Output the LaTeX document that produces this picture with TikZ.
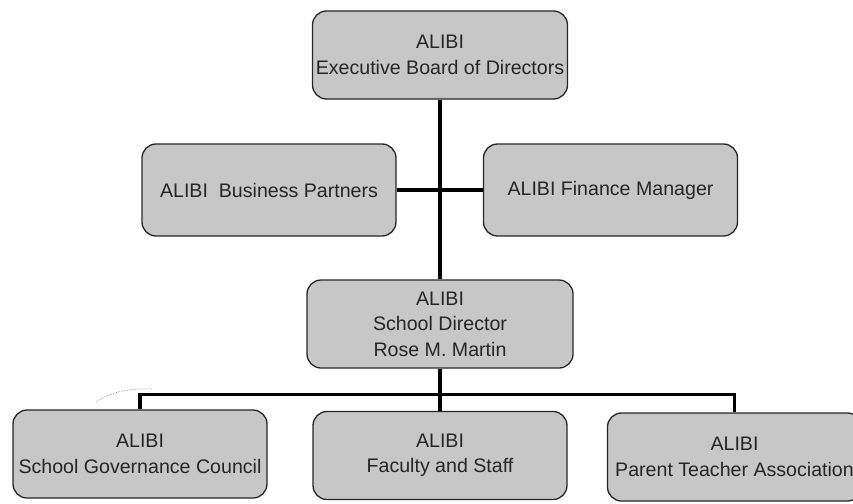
\documentclass[tikz,border=0pt]{standalone}
\usepackage{fontspec}
\setmainfont{Liberation Sans}
\usetikzlibrary{positioning}

\begin{document}
\begin{tikzpicture}[x=1pt,y=1pt]
  \tikzstyle{orgBox} = [draw=black!85, line width=1.3pt, fill=black!22, rectangle, rounded corners=14pt, minimum width=254pt, minimum height=88pt, align=center, text=black!85, font={\fontsize{19.6}{25.5}\selectfont}];
  \tikzstyle{orgLink} = [black, line width=3.4pt];

  \useasboundingbox (0,0) rectangle (853,-503);

  \node[orgBox]                  (Board)    at (440,-55) {ALIBI\\Executive Board of Directors};
  \node[orgBox, minimum height=92pt] (Partners) [below of=Board, node distance=135pt, xshift=-171pt] {ALIBI\ \ Business Partners};
  \node[orgBox, minimum height=92pt] (Finance)  [below of=Board, node distance=135pt, xshift=170.5pt] {ALIBI Finance Manager};
  \node[orgBox, minimum width=266pt] (Director) [below of=Board, node distance=269pt] {ALIBI\\School Director\\Rose M. Martin};

  \node[orgBox] (Council) [below of=Director, node distance=130pt, xshift=-300pt] {ALIBI\\School Governance Council};
  \node[orgBox] (Faculty) [below of=Director, node distance=131.5pt] {ALIBI\\Faculty and Staff};
  \node[orgBox] (PTA)     [below of=Director, node distance=133pt, xshift=294.5pt] {ALIBI\\Parent Teacher Association};

  \draw[orgLink] (Board) -- (Director);
  \draw[orgLink] (Partners) -- (Finance);
  \draw[orgLink] (Director.south) -- ++(0,-26) coordinate (Bus);
  \draw[orgLink] (Council) |- (Bus) -| (PTA);
  \draw[orgLink] (Bus) -- (Faculty);

  % faint pencil mark left of the bus line
  \draw[black!55, densely dotted, semithick] (96,-402) .. controls (110,-392) and (130,-388) .. (152,-389);
\end{tikzpicture}
\end{document}
